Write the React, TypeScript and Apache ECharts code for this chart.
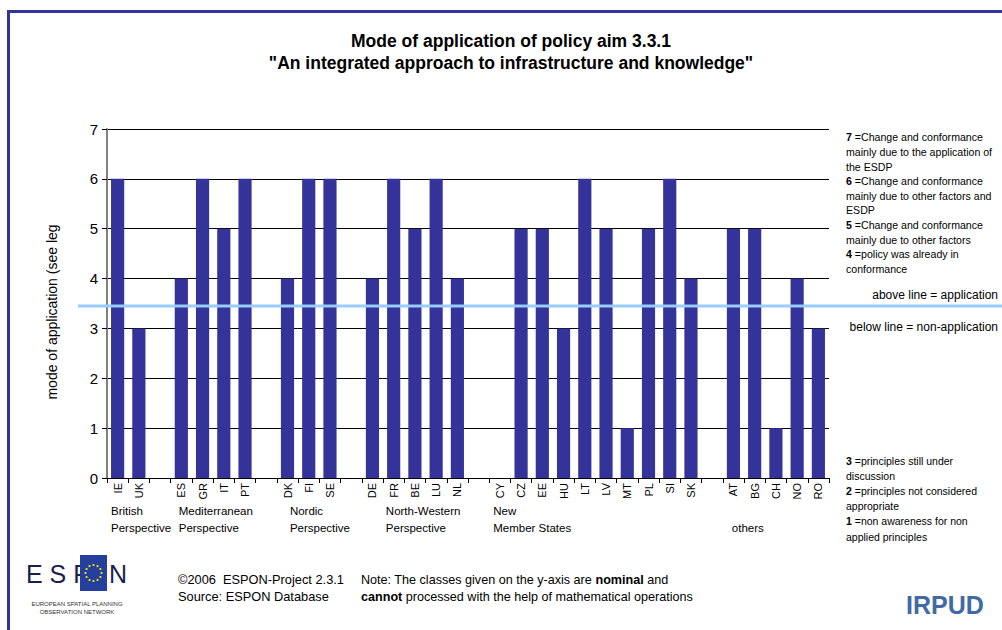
import React, { useEffect, useRef } from "react";
import * as echarts from "echarts";

const categories = ["IE", "UK", "g1", "ES", "GR", "IT", "PT", "g2", "DK", "FI", "SE", "g3", "DE", "FR", "BE", "LU", "NL", "g4", "CY", "CZ", "EE", "HU", "LT", "LV", "MT", "PL", "SI", "SK", "g5", "AT", "BG", "CH", "NO", "RO"];
const values: (number | null)[] = [6, 3, null, 4, 6, 5, 6, null, 4, 6, 6, null, 4, 6, 5, 6, 4, null, null, 5, 5, 3, 6, 5, 1, 5, 6, 4, null, 5, 5, 1, 4, 3];
const yTicks = [0, 1, 2, 3, 4, 5, 6, 7];
const threshold = 3.45;
const groupStarts = ["IE", "ES", "DK", "DE", "CY", "AT"];
const groupLabels = ["British\nPerspective", "Mediterranean\nPerspective", "Nordic\nPerspective", "North-Western\nPerspective", "New\nMember States", "\nothers"];
const groupLabelShift = [4, 8, 13, 24, 4, 9];
const legendAbove = [
  "{b|7} =Change and conformance",
  "mainly due to the application of",
  "the ESDP",
  "{b|6} =Change and conformance",
  "mainly due to other factors and",
  "ESDP",
  "{b|5} =Change and conformance",
  "mainly due to other factors",
  "{b|4} =policy was already in",
  "conformance",
];
const legendBelow = [
  "{b|3} =principles still under",
  "discussion",
  "{b|2} =principles not considered",
  "appropriate",
  "{b|1} =non awareness for non",
  "applied principles",
];

const FONT = "'Liberation Sans', Arial, sans-serif";
const BAR = "#333399";

export default function App() {
  const ref = useRef<HTMLDivElement>(null);
  useEffect(() => {
    if (!ref.current) return;
    const chart = echarts.init(ref.current, undefined, { renderer: "svg" });
    const option: any = {
      animation: false,
      backgroundColor: "#ffffff",
      textStyle: { fontFamily: FONT },
      grid: { left: 107, right: 173, top: 129, bottom: 152 },
      xAxis: {
        type: "category",
        data: categories,
        axisLine: { lineStyle: { color: "#000", width: 1 } },
        axisTick: { show: true, alignWithLabel: false, length: 5, lineStyle: { color: "#000" } },
        axisLabel: {
          rotate: 90,
          interval: 0,
          fontSize: 11,
          color: "#000",
          margin: 5,
          fontFamily: FONT,
          formatter: (v: string) => (v.startsWith("g") ? "" : v),
        },
      },
      yAxis: {
        type: "value",
        min: 0,
        max: 7,
        interval: 1,
        axisLine: { show: true, lineStyle: { color: "#808080", width: 2 } },
        axisTick: { show: true, length: 5, lineStyle: { color: "#000" } },
        axisLabel: { fontSize: 15, color: "#000", margin: 9, fontFamily: FONT, formatter: (v: number) => (yTicks.includes(v) ? String(v) : "") },
        splitLine: { show: true, lineStyle: { color: "#000", width: 1 } },
      },
      series: [
        {
          type: "bar",
          data: values,
          barWidth: "62%",
          itemStyle: { color: BAR },
        },
      ],
    };
    chart.setOption(option);

    const slot = (1002 - 107 - 173) / categories.length;
    const yLine = chart.convertToPixel({ yAxisIndex: 0 }, threshold) as number;
    const graphics: any[] = [
      { type: "rect", shape: { x: 7, y: 10, width: 995, height: 3 }, style: { fill: BAR }, z: 100 },
      { type: "rect", shape: { x: 7, y: 10, width: 3, height: 620 }, style: { fill: BAR }, z: 100 },
      { type: "line", shape: { x1: 78, y1: yLine, x2: 1002, y2: yLine }, style: { stroke: "#99ccff", lineWidth: 3 }, z: 100 },
      { type: "text", x: 511, y: 41, style: { text: "Mode of application of policy aim 3.3.1", font: `bold 17.5px ${FONT}`, fill: "#000", align: "center", verticalAlign: "middle" } },
      { type: "text", x: 511, y: 63, style: { text: '"An integrated approach to infrastructure and knowledge"', font: `bold 17.5px ${FONT}`, fill: "#000", align: "center", verticalAlign: "middle" } },
      { type: "text", x: 52, y: 312, rotation: Math.PI / 2, style: { text: "mode of application (see leg", font: `14px ${FONT}`, fill: "#000", align: "center", verticalAlign: "middle" } },
      {
        type: "text", x: 846, y: 130,
        style: { text: legendAbove.join("\n"), font: `10.6px ${FONT}`, fill: "#000", lineHeight: 14.6, verticalAlign: "top", rich: { b: { fontWeight: "bold", fontSize: 10.6, lineHeight: 14.6, fontFamily: FONT } } },
      },
      {
        type: "text", x: 846, y: 453,
        style: { text: legendBelow.join("\n"), font: `10.5px ${FONT}`, fill: "#000", lineHeight: 15.2, verticalAlign: "top", rich: { b: { fontWeight: "bold", fontSize: 10.5, lineHeight: 15.2, fontFamily: FONT } } },
      },
      { type: "text", x: 998, y: yLine - 11, style: { text: "above line = application", font: `12px ${FONT}`, fill: "#000", align: "right", verticalAlign: "middle" } },
      { type: "text", x: 998, y: yLine + 21, style: { text: "below line = non-application", font: `12px ${FONT}`, fill: "#000", align: "right", verticalAlign: "middle" } },
      { type: "text", x: 178, y: 571, style: { text: "©2006  ESPON-Project 2.3.1\nSource: ESPON Database", font: `12.8px ${FONT}`, fill: "#000", lineHeight: 17, verticalAlign: "top" } },
      {
        type: "text", x: 361, y: 571,
        style: { text: "Note: The classes given on the y-axis are {b|nominal} and\n{b|cannot} processed with the help of mathematical operations", font: `12.6px ${FONT}`, fill: "#000", lineHeight: 17, verticalAlign: "top", rich: { b: { fontWeight: "bold", fontSize: 12.6, lineHeight: 17, fontFamily: FONT } } },
      },
      { type: "text", x: 945, y: 605, style: { text: "IRPUD", font: `bold 25px ${FONT}`, fill: "#3f6aa6", align: "center", verticalAlign: "middle" } },
      // ESPON logo
      { type: "text", x: 26, y: 574, style: { text: "E S P", font: `25px ${FONT}`, fill: "#1a1f4d", verticalAlign: "middle" } },
      { type: "rect", shape: { x: 80, y: 555, width: 27, height: 36 }, style: { fill: "#243f9e" } },
      { type: "text", x: 109, y: 574, style: { text: "N", font: `25px ${FONT}`, fill: "#1a1f4d", verticalAlign: "middle" } },
      { type: "text", x: 77, y: 604, style: { text: "EUROPEAN SPATIAL PLANNING", font: `6px ${FONT}`, fill: "#333", align: "center", verticalAlign: "middle" } },
      { type: "text", x: 77, y: 612, style: { text: "OBSERVATION NETWORK", font: `6px ${FONT}`, fill: "#333", align: "center", verticalAlign: "middle" } },
    ];
    for (let i = 0; i < 12; i++) {
      const a = (i * Math.PI) / 6;
      graphics.push({ type: "circle", shape: { cx: 93.5 + 8 * Math.cos(a), cy: 573 + 8 * Math.sin(a), r: 1.1 }, style: { fill: "#ffdd00" } });
    }
    groupStarts.forEach((start, i) => {
      const cx = chart.convertToPixel({ xAxisIndex: 0 }, start) as number;
      graphics.push({
        type: "text", x: cx - slot / 2 + groupLabelShift[i], y: 502,
        style: { text: groupLabels[i], font: `11.5px ${FONT}`, fill: "#000", lineHeight: 17, verticalAlign: "top" },
      });
    });
    chart.setOption({ graphic: graphics });
    return () => chart.dispose();
  }, []);
  return <div ref={ref} style={{ position: "fixed", left: 0, top: 0, width: 1002, height: 630 }} />;
}
